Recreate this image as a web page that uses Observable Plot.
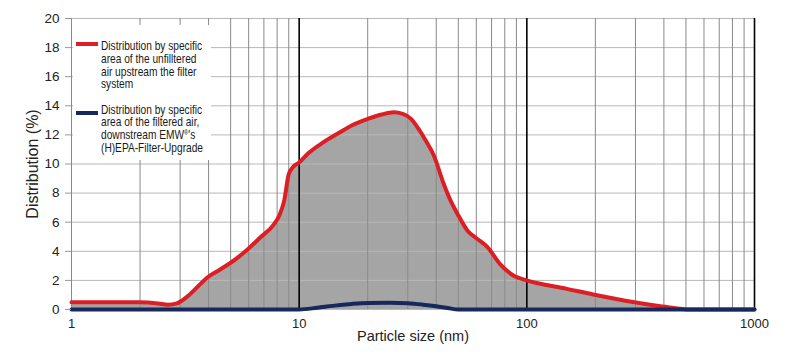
<!DOCTYPE html>
<html>
<head>
<meta charset="utf-8">
<script src="https://cdn.jsdelivr.net/npm/d3@7"></script>
<script src="https://cdn.jsdelivr.net/npm/@observablehq/plot@0.6"></script>
<style>
  body { margin: 0; background: #fff; }
  #wrap { position: relative; width: 805px; height: 362px; }
  #legend { position: absolute; left: 73px; top: 25px; width: 138px; height: 135px; background: #fff;
            font-family: "Liberation Sans", Arial, sans-serif;
            font-size: 12.4px; line-height: 12.6px; color: #1a1a1a; }
  .item { position: absolute; left: 28px; width: 150px; white-space: nowrap;
          transform: scaleX(0.82); transform-origin: 0 0; }
  .item div { height: 12.6px; overflow: visible; }
  .sw { position: absolute; left: 3px; width: 22px; height: 4px; }
  .reg { font-size: 7px; vertical-align: 4px; line-height: 0; }
</style>
</head>
<body>
<div id="wrap">
  <div id="legend"></div>
</div>
<script>
// Red curve: unfiltered air upstream (particle size nm, distribution %)
const upstreamSizes = [1, 1.5, 2, 2.4, 2.65, 2.9, 3.2, 3.6, 3.95, 4.5, 5.3, 6.0, 6.8, 7.7, 8.2, 8.6, 9.0, 9.4, 10, 11, 12.8, 15, 17, 20, 23, 26, 28.5, 31, 33.5, 36, 39, 43, 46.2, 49.5, 55, 60, 67, 76.5, 88, 100, 150, 196, 297, 386, 472, 520, 1000];
const upstreamValues = [0.5, 0.5, 0.5, 0.42, 0.33, 0.42, 0.85, 1.6, 2.2, 2.75, 3.5, 4.2, 5.0, 5.8, 6.5, 7.5, 9.3, 9.8, 10.1, 10.75, 11.5, 12.15, 12.65, 13.1, 13.4, 13.55, 13.45, 13.1, 12.4, 11.6, 10.6, 8.7, 7.5, 6.6, 5.4, 4.9, 4.3, 3.1, 2.3, 2.0, 1.42, 1.03, 0.5, 0.23, 0.05, 0, 0];
// Blue curve: filtered air downstream
const downstreamSizes = [1, 10, 12, 14, 17, 20, 25, 30, 35, 40, 45, 50, 1000];
const downstreamValues = [0, 0, 0.12, 0.25, 0.38, 0.45, 0.47, 0.43, 0.33, 0.22, 0.1, 0, 0];

const xTickLabels = [1, 10, 100, 1000];
const yTicks = [0, 2, 4, 6, 8, 10, 12, 14, 16, 18, 20];
const minorX = [1, 2, 3, 4, 5, 6, 7, 8, 9, 20, 30, 40, 50, 60, 70, 80, 90, 200, 300, 400, 500, 600, 700, 800, 900];
const decadeX = [10, 100, 1000];

// legend text, line by line as in the original
const legendLines = [
  ["Distribution by specific", "area of the unfilltered", "air upstream the filter", "system"],
  ["Distribution by specific", "area of the filtered air,", "downstream EMW®'s", "(H)EPA-Filter-Upgrade"]
];

const RED = "#dc1f24", BLUE = "#16285c";

const up = upstreamSizes.map((x, i) => ({x, y: upstreamValues[i]}));
const down = downstreamSizes.map((x, i) => ({x, y: downstreamValues[i]}));

const chart = Plot.plot({
  width: 805,
  height: 362,
  marginLeft: 71,
  marginRight: 51,
  marginTop: 18,
  marginBottom: 53,
  style: {fontFamily: "'Liberation Sans', Arial, sans-serif", fontSize: "13px", color: "#222", background: "#fff"},
  x: {type: "log", domain: [1, 1000]},
  y: {domain: [0, 20]},
  marks: [
    Plot.areaY(up, {x: "x", y: "y", fill: "#a5a5a5", curve: "monotone-x"}),
    Plot.ruleY(yTicks, {stroke: "#b8b8b8", strokeWidth: 1}),
    Plot.ruleX(minorX, {stroke: "#8a8a8a", strokeWidth: 1}),
    Plot.ruleX(decadeX, {stroke: "#000", strokeWidth: 1.6}),
    Plot.lineY(up, {x: "x", y: "y", stroke: RED, strokeWidth: 4, curve: "monotone-x"}),
    Plot.lineY(down, {x: "x", y: "y", stroke: BLUE, strokeWidth: 4, curve: "monotone-x"}),
    Plot.axisX({ticks: xTickLabels, tickFormat: d => String(d), tickSize: 0, tickPadding: 9,
      label: "Particle size (nm)", labelAnchor: "center", labelOffset: 31, fontSize: 13,
      labelArrow: "none"}),
    Plot.axisY({ticks: yTicks, tickSize: 6, tickPadding: 6, stroke: "#999", fontSize: 13.5,
      label: "Distribution (%)", labelAnchor: "center", labelOffset: 45, labelArrow: "none"})
  ]
});
chart.style.position = "absolute";
chart.style.left = "0";
chart.style.top = "0";
const wrap = document.getElementById("wrap");
wrap.insertBefore(chart, wrap.firstChild);

chart.querySelectorAll("[aria-label='x-axis label'] text").forEach(t => t.style.fontSize = "14.5px");
chart.querySelectorAll("[aria-label='y-axis label'] text").forEach(t => t.style.fontSize = "16px");

const legend = document.getElementById("legend");
const colors = [RED, BLUE];
const itemTops = [15.4, 78.8];
const swTops = [17, 86];
legendLines.forEach((lines, i) => {
  const sw = document.createElement("div");
  sw.className = "sw";
  sw.style.background = colors[i];
  sw.style.top = swTops[i] + "px";
  legend.appendChild(sw);
  const it = document.createElement("div");
  it.className = "item";
  it.style.top = itemTops[i] + "px";
  lines.forEach((ln, j) => {
    const row = document.createElement("div");
    const parts = ln.split("®");
    row.appendChild(document.createTextNode(parts[0]));
    if (parts.length > 1) {
      const s = document.createElement("span");
      s.className = "reg";
      s.textContent = "®";
      row.appendChild(s);
      row.appendChild(document.createTextNode(parts[1]));
    }
    it.appendChild(row);
  });
  legend.appendChild(it);
});
</script>
</body>
</html>
